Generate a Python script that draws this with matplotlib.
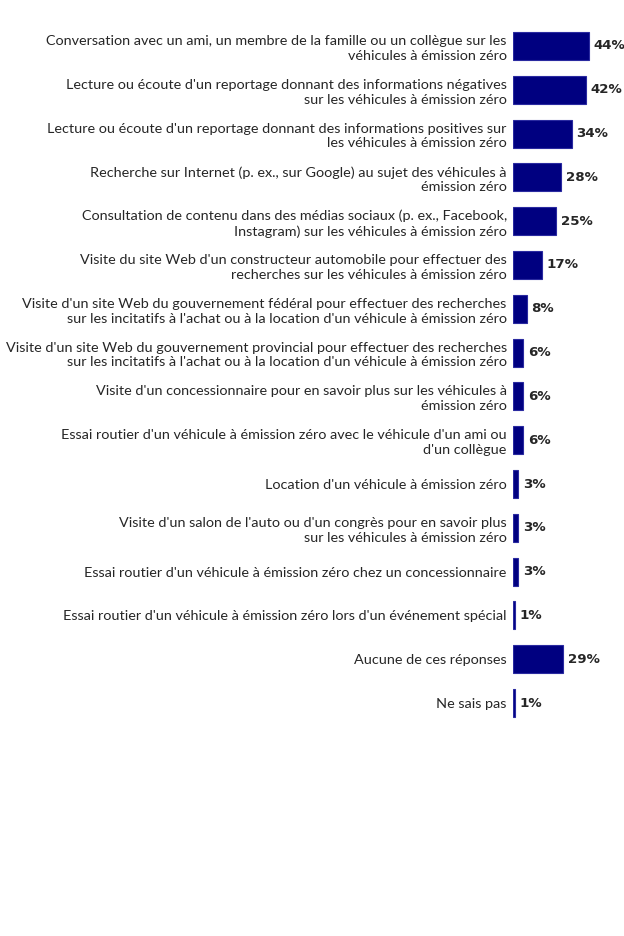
import matplotlib
matplotlib.use("Agg")
import matplotlib.pyplot as plt
import matplotlib.transforms as mtransforms

categories = [
    "Conversation avec un ami, un membre de la famille ou un collègue sur les\nvéhicules à émission zéro",
    "Lecture ou écoute d'un reportage donnant des informations négatives\nsur les véhicules à émission zéro",
    "Lecture ou écoute d'un reportage donnant des informations positives sur\nles véhicules à émission zéro",
    "Recherche sur Internet (p. ex., sur Google) au sujet des véhicules à\némission zéro",
    "Consultation de contenu dans des médias sociaux (p. ex., Facebook,\nInstagram) sur les véhicules à émission zéro",
    "Visite du site Web d'un constructeur automobile pour effectuer des\nrecherches sur les véhicules à émission zéro",
    "Visite d'un site Web du gouvernement fédéral pour effectuer des recherches\nsur les incitatifs à l'achat ou à la location d'un véhicule à émission zéro",
    "Visite d'un site Web du gouvernement provincial pour effectuer des recherches\nsur les incitatifs à l'achat ou à la location d'un véhicule à émission zéro",
    "Visite d'un concessionnaire pour en savoir plus sur les véhicules à\némission zéro",
    "Essai routier d'un véhicule à émission zéro avec le véhicule d'un ami ou\nd'un collègue",
    "Location d'un véhicule à émission zéro",
    "Visite d'un salon de l'auto ou d'un congrès pour en savoir plus\nsur les véhicules à émission zéro",
    "Essai routier d'un véhicule à émission zéro chez un concessionnaire",
    "Essai routier d'un véhicule à émission zéro lors d'un événement spécial",
    "Aucune de ces réponses",
    "Ne sais pas",
]
values = [44, 42, 34, 28, 25, 17, 8, 6, 6, 6, 3, 3, 3, 1, 29, 1]
value_labels = ["44%", "42%", "34%", "28%", "25%", "17%", "8%", "6%", "6%", "6%",
                "3%", "3%", "3%", "1%", "29%", "1%"]

W, H = 624, 936
fig = plt.figure(figsize=(W / 100, H / 100), dpi=100)
left_px, right_px = 513, 624
top_px, bottom_px = 24, 725
ax = fig.add_axes([left_px / W, 1 - bottom_px / H, (right_px - left_px) / W, (bottom_px - top_px) / H])

y = list(range(len(categories)))
ax.barh(y, values, height=0.64, color="#000080", edgecolor="#2a2aa0", linewidth=0.8)
ax.set_xlim(0, (right_px - left_px) / 1.73)
ax.set_ylim(len(categories) - 0.5, -0.5)
ax.set_yticks(y)
ax.set_yticklabels(categories, fontsize=10.38, family="Lato", color="#262626",
                   linespacing=1.28, ha="right")
ax.tick_params(axis="y", length=0, pad=4.5)
ax.set_xticks([])
for s in ax.spines.values():
    s.set_visible(False)

offset = mtransforms.offset_copy(ax.transData, fig=fig, x=4.5 / 100 * 72, y=0, units="points")
for yi, v, lab in zip(y, values, value_labels):
    ax.text(v, yi, lab, transform=offset, ha="left", va="center",
            fontsize=9.6, fontweight="bold", family="DejaVu Sans", color="#262626")

fig.savefig("out.png", dpi=100, facecolor="white")
